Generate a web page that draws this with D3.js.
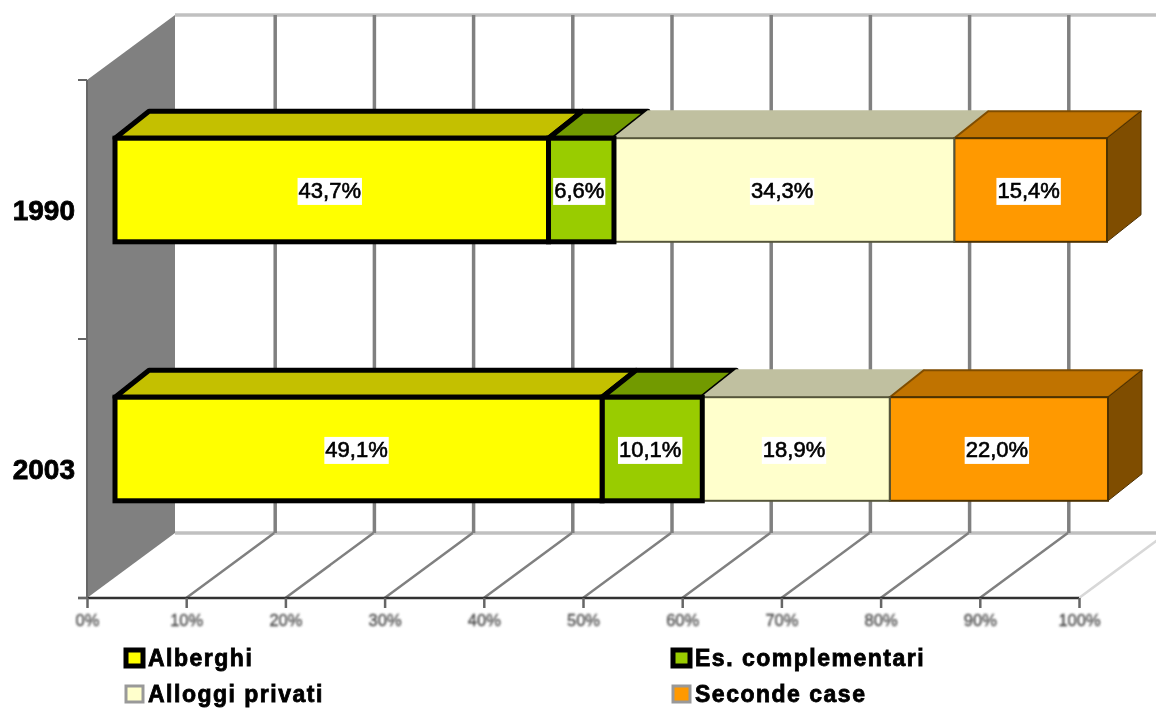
<!DOCTYPE html>
<html lang="en">
<head>
<meta charset="UTF-8">
<title>Alberghi 1990 2003</title>
<script src="https://d3js.org/d3.v7.min.js"></script>
<style>
    html, body { margin: 0; padding: 0; background: #fff; }
    svg { display: block; }
    text { font-family: "Liberation Sans", Arial, sans-serif; }
</style>
</head>
<body>
<div id="chart"></div>
<script>
const years = ["1990", "2003"];
const seriesNames = ["Alberghi", "Es. complementari", "Alloggi privati", "Seconde case"];
const values1990 = [43.7, 6.6, 34.3, 15.4];
const values2003 = [49.1, 10.1, 18.9, 22.0];
const frontColors = ["#ffff00", "#99cc00", "#ffffcc", "#ff9900"];
const topColors = ["#c4c000", "#729a00", "#c0c0a0", "#c07300"];
const borderColors = ["#000", "#000", "#55553a", "#4d3000"];
const topBorderColors = ["#000", "#000", "#c0c0a0", "#7f4d00"];
const borderWidths = [5, 5, 2, 2];
const ticks = d3.range(0, 101, 10);

const width = 1156, height = 708;

// floor/front plane of the fake 3d box
const x = d3.scaleLinear().domain([0, 100]).range([87, 1079]);
const y = d3.scaleBand().domain(years).range([80, 598]).paddingInner(0.6).paddingOuter(0.3);
const wall = { dx: 88, dy: -65 };   // front plane -> back wall
const bar = { dx: 28, dy: -19.5 };  // front plane -> front of the bars
const depth = { dx: 34, dy: -27 };  // bar thickness

const rows = years.map((year, i) => {
    const vals = i === 0 ? values1990 : values2003;
    const row = { year };
    seriesNames.forEach((s, j) => row[s] = vals[j]);
    return row;
});
const stacked = d3.stack().keys(seriesNames)(rows);

const svg = d3.select("#chart").append("svg")
    .attr("width", width)
    .attr("height", height);

// the source picture is an enlarged low-res image, so everything is a bit soft
const defs = svg.append("defs");
[["soft", 0.6], ["softText", 0.5], ["softTick", 0.8]].forEach(([id, dev]) => {
    defs.append("filter").attr("id", id)
        .attr("x", "-10%").attr("y", "-30%").attr("width", "120%").attr("height", "160%")
        .append("feGaussianBlur").attr("stdDeviation", dev);
});

const g = svg.append("g").attr("filter", "url(#soft)");
const pts = a => a.map(p => p.join(",")).join(" ");

// back wall lines
const top0 = y.range()[0], bottom0 = y.range()[1];
g.append("line").attr("x1", x(0) + wall.dx).attr("x2", width)
    .attr("y1", top0 + wall.dy).attr("y2", top0 + wall.dy)
    .attr("stroke", "#c0c0c0").attr("stroke-width", 3.5);
g.append("line").attr("x1", x(0) + wall.dx).attr("x2", width)
    .attr("y1", bottom0 + wall.dy).attr("y2", bottom0 + wall.dy)
    .attr("stroke", "#c0c0c0").attr("stroke-width", 3.5);

g.selectAll(".grid").data(ticks.filter(t => t > 0 && t < 100)).join("line")
    .attr("class", "grid")
    .attr("x1", d => x(d) + wall.dx + 1).attr("x2", d => x(d) + wall.dx + 1)
    .attr("y1", top0 + wall.dy).attr("y2", bottom0 + wall.dy)
    .attr("stroke", "#808080").attr("stroke-width", 3.5);

// floor diagonals
g.selectAll(".floor").data(ticks.filter(t => t > 0)).join("line")
    .attr("class", "floor")
    .attr("x1", d => x(d)).attr("y1", bottom0)
    .attr("x2", d => x(d) + wall.dx).attr("y2", bottom0 + wall.dy)
    .attr("stroke", d => d === 100 ? "#d8d8d8" : "#808080").attr("stroke-width", 2.5);

// left grey wall
g.append("polygon")
    .attr("points", pts([[x(0), top0], [x(0) + wall.dx, top0 + wall.dy], [x(0) + wall.dx, bottom0 + wall.dy], [x(0), bottom0]]))
    .attr("fill", "#808080");

// axes
const xAxis = d3.axisBottom(x).tickValues(ticks).tickSize(10).tickFormat(d => d + "%");
const xg = g.append("g").attr("transform", `translate(0,${bottom0})`).call(xAxis);
xg.select(".domain").attr("stroke", "#333").attr("stroke-width", 2.5).attr("d", `M78,0H${x(100)}`);
xg.selectAll(".tick line").attr("stroke", "#666").attr("stroke-width", 2.5);
xg.selectAll(".tick text")
    .attr("font-size", 16.5)
    .attr("fill", "#444")
    .attr("stroke", "#444")
    .attr("stroke-width", 0.3)
    .attr("dy", "0.75em")
    .attr("y", 15.6)
    .attr("filter", "url(#softTick)");

g.append("line").attr("x1", x(0)).attr("x2", x(0)).attr("y1", top0).attr("y2", bottom0)
    .attr("stroke", "#666").attr("stroke-width", 2);
g.selectAll(".ytick").data([top0, (top0 + bottom0) / 2, bottom0]).join("line")
    .attr("class", "ytick")
    .attr("x1", 78).attr("x2", x(0)).attr("y1", d => d).attr("y2", d => d)
    .attr("stroke", "#666").attr("stroke-width", 2);

g.selectAll(".ylab").data(years).join("text")
    .attr("class", "ylab")
    .attr("x", 75)
    .attr("y", d => y(d) + y.bandwidth() / 2)
    .attr("dy", "0.36em")
    .attr("text-anchor", "end")
    .attr("font-size", 28)
    .attr("font-weight", "bold")
    .attr("fill", "#000")
    .attr("stroke", "#000")
    .attr("stroke-width", 0.8)
    .attr("filter", "url(#softText)")
    .text(d => d);

// bars
const bh = y.bandwidth();
stacked.forEach((layer, j) => {
    const seg = g.append("g").selectAll("g").data(layer).join("g");

    seg.append("polygon")
        .attr("points", d => {
            const x0 = x(d[0]) + bar.dx, x1 = x(d[1]) + bar.dx, yt = y(d.data.year) + bar.dy;
            return pts([[x0, yt], [x0 + depth.dx, yt + depth.dy], [x1 + depth.dx, yt + depth.dy], [x1, yt]]);
        })
        .attr("fill", topColors[j])
        .attr("stroke", topBorderColors[j])
        .attr("stroke-width", borderWidths[j])
        .attr("stroke-linejoin", "round");

    if (j === seriesNames.length - 1) {
        seg.append("polygon")
            .attr("points", d => {
                const x1 = x(d[1]) + bar.dx, yt = y(d.data.year) + bar.dy;
                return pts([[x1, yt], [x1 + depth.dx, yt + depth.dy], [x1 + depth.dx, yt + depth.dy + bh], [x1, yt + bh]]);
            })
            .attr("fill", "#7f4d00")
            .attr("stroke", "#4d3000")
            .attr("stroke-width", 1);
    }
});
// fronts go on top of all the tops, thin ones first so the black borders stay whole
[3, 2, 1, 0].forEach(j => {
    g.append("g").selectAll("rect").data(stacked[j]).join("rect")
        .attr("x", d => x(d[0]) + bar.dx)
        .attr("y", d => y(d.data.year) + bar.dy)
        .attr("width", d => x(d[1]) - x(d[0]))
        .attr("height", bh)
        .attr("fill", frontColors[j])
        .attr("stroke", borderColors[j])
        .attr("stroke-width", borderWidths[j]);
});

// value labels with white box
stacked.forEach(layer => {
    const lab = g.append("g").selectAll("g").data(layer).join("g")
        .attr("transform", d => `translate(${x((d[0] + d[1]) / 2) + bar.dx - 2},${y(d.data.year) + bar.dy + bh / 2})`);
    const txt = lab.append("text")
        .attr("text-anchor", "middle")
        .attr("dy", "0.36em")
        .attr("font-size", 22)
        .attr("fill", "#000")
        .attr("stroke", "#000")
        .attr("stroke-width", 0.6)
        .text(d => (d[1] - d[0]).toFixed(1).replace(".", ",") + "%");
    txt.each(function () {
        const b = this.getBBox();
        d3.select(this.parentNode).insert("rect", "text")
            .attr("x", b.x - 1).attr("y", b.y)
            .attr("width", b.width + 2).attr("height", b.height + 2)
            .attr("fill", "#fff");
    });
});

// legend
const legendX = [124, 671], legendY = [658, 694];
const leg = g.selectAll(".leg").data(seriesNames).join("g")
    .attr("class", "leg")
    .attr("transform", (d, i) => `translate(${legendX[i % 2]},${legendY[i >> 1]})`);
leg.append("rect")
    .attr("x", 2).attr("y", -8).attr("width", 17).attr("height", 16)
    .attr("fill", (d, i) => frontColors[i])
    .attr("stroke", (d, i) => i === 0 || i === 1 ? "#000" : "#999")
    .attr("stroke-width", (d, i) => i === 0 || i === 1 ? 5 : 3);
leg.append("text")
    .attr("x", 24)
    .attr("dy", "0.36em")
    .attr("font-size", 23)
    .attr("font-weight", "bold")
    .attr("letter-spacing", 1.5)
    .attr("fill", "#000")
    .attr("stroke", "#000")
    .attr("stroke-width", 0.8)
    .attr("filter", "url(#softText)")
    .text(d => d);
</script>
</body>
</html>
